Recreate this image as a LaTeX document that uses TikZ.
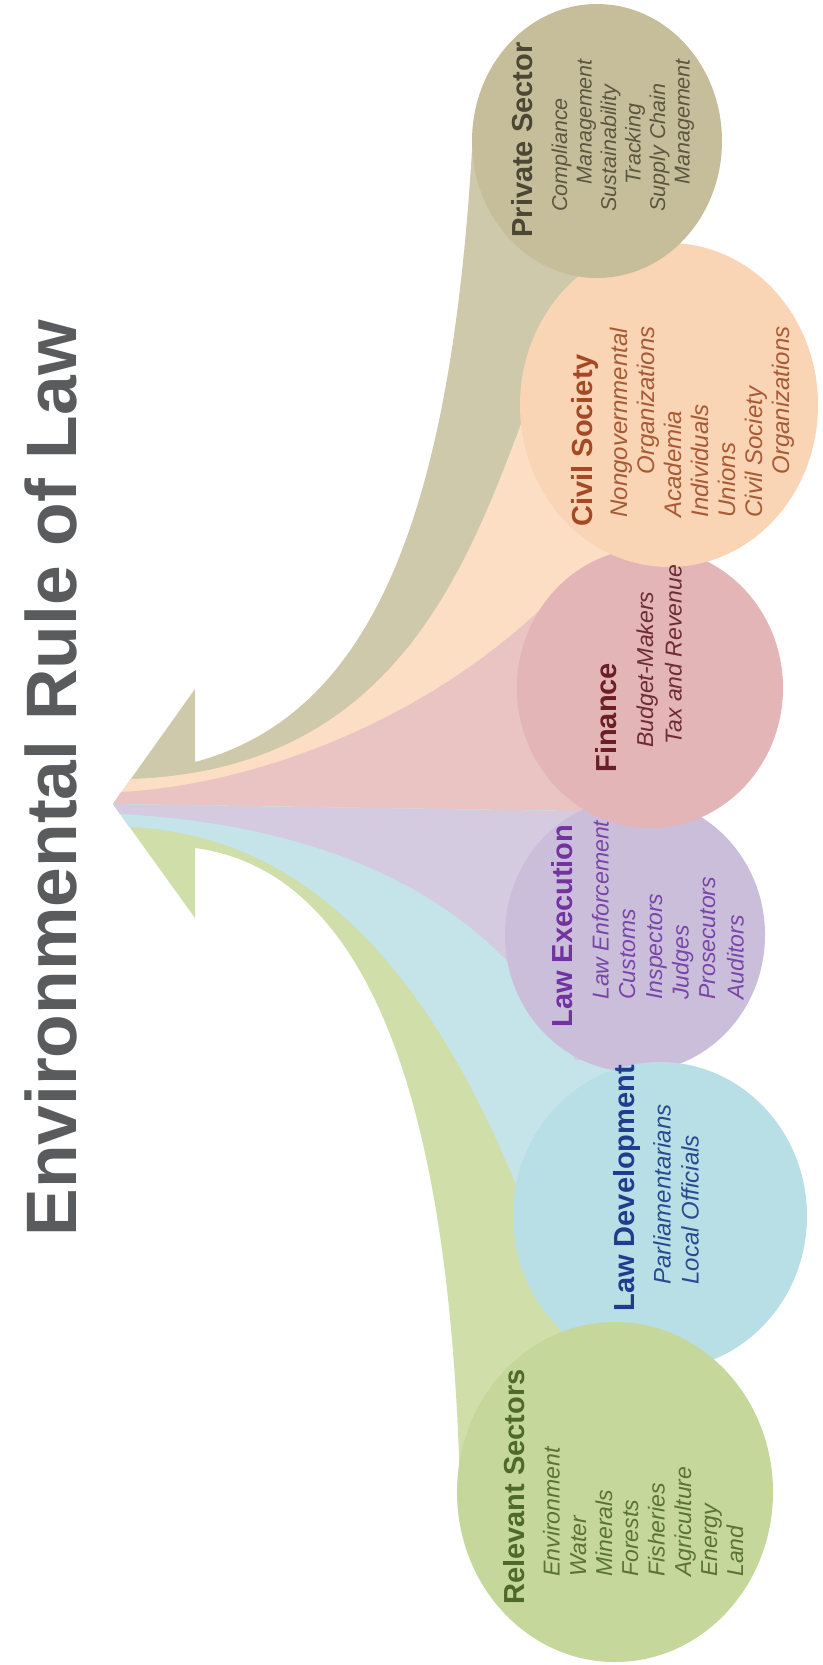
\documentclass[tikz,border=0pt]{standalone}
\usepackage{fontspec}
\setmainfont{Liberation Sans}
\usetikzlibrary{shapes.geometric}
\definecolor{bandPS}{HTML}{CFC9AB}
\definecolor{bandCS}{HTML}{FBDEC3}
\definecolor{bandFI}{HTML}{EAC4C3}
\definecolor{bandLE}{HTML}{D5CBE0}
\definecolor{bandLD}{HTML}{C4E4EA}
\definecolor{bandRS}{HTML}{D0DEAA}
\definecolor{cPS}{HTML}{C6BE9B}
\definecolor{cCS}{HTML}{F9D4B5}
\definecolor{cFI}{HTML}{E3B5B6}
\definecolor{cLE}{HTML}{CBBEDB}
\definecolor{cLD}{HTML}{B8DEE6}
\definecolor{cRS}{HTML}{C6D79B}
\definecolor{tPSh}{HTML}{4C4733}
\definecolor{tPS}{HTML}{5C5640}
\definecolor{tCSh}{HTML}{A34A25}
\definecolor{tCS}{HTML}{A85A35}
\definecolor{tFIh}{HTML}{6B1E25}
\definecolor{tFI}{HTML}{6E2B35}
\definecolor{tLEh}{HTML}{7232A0}
\definecolor{tLE}{HTML}{7A45A8}
\definecolor{tLDh}{HTML}{1F3D8C}
\definecolor{tLD}{HTML}{2A4A90}
\definecolor{tRSh}{HTML}{4E6A2A}
\definecolor{tRS}{HTML}{5A7335}
\definecolor{tTitle}{HTML}{5A5B5D}
\begin{document}
\begin{tikzpicture}[x=0.5pt,y=-0.5pt,
  blob/.style={ellipse, inner sep=0pt, draw=none},
  hd/.style={rotate=90, anchor=base west, inner sep=0pt, font=\fontsize{14.5pt}{17pt}\selectfont\bfseries},
  itm/.style={rotate=90, anchor=base west, inner sep=0pt, font=\fontsize{11.5pt}{13pt}\selectfont\itshape},
  itmsmall/.style={rotate=90, anchor=base west, inner sep=0pt, font=\fontsize{10.75pt}{12pt}\selectfont\itshape},
  itmbig/.style={rotate=90, anchor=base west, inner sep=0pt, font=\fontsize{12pt}{14pt}\selectfont\itshape}]
\useasboundingbox (0,0) rectangle (823,1665);
\fill[white] (0,0) rectangle (823,1665);

% title
\node[rotate=90, anchor=base west, inner sep=0pt, text=tTitle,
  font=\fontsize{35.7pt}{42pt}\selectfont\bfseries] (title) at (76,1237) {Environmental Rule of Law};

% bands, upper group
\fill[bandPS] (640,150) -- (472,150) .. controls (450,520) and (370,715) .. (195,762)
  -- (195,689) -- (113,804) -- (640,808) -- cycle;
\fill[bandCS] (113,804) -- (131,779) .. controls (400,770) and (470,560) .. (530,400)
  -- (640,400) -- (640,808) -- cycle;
\fill[bandFI] (113,804) -- (121,792) .. controls (250,785) and (420,725) .. (545,605)
  -- (640,605) -- (640,812) -- cycle;
% bands, lower group
\fill[bandRS] (113,804) -- (195,918) -- (195,848) .. controls (360,870) and (450,1080) .. (460,1490)
  -- (640,1490) -- (640,812) -- cycle;
\fill[bandLD] (113,804) -- (129,827) .. controls (330,835) and (470,1010) .. (565,1325)
  -- (640,1325) -- (640,812) -- cycle;
\fill[bandLE] (113,804) -- (120,814) .. controls (330,825) and (500,900) .. (575,1060)
  -- (640,1060) -- (640,812) -- cycle;

% circles
\node[blob, fill=cLE, minimum width=130pt, minimum height=137pt] (le) at (635,935) {};
\node[blob, fill=cFI, minimum width=133pt, minimum height=140pt] (fi) at (650,688) {};
\node[blob, fill=cCS, minimum width=149pt, minimum height=162pt] (cs) at (669,405) {};
\node[blob, fill=cPS, minimum width=125pt, minimum height=137pt] (ps) at (597,141) {};
\node[blob, fill=cLD, minimum width=147pt, minimum height=154pt] (ld) at (660,1216) {};
\node[blob, fill=cRS, minimum width=158pt, minimum height=170pt] (rs) at (615,1492) {};

% Private Sector
\node[hd, text=tPSh] (psh) at (532.5,238) {Private Sector};
\node[itmsmall, text=tPS] (ps1) at (567,212) {Compliance};
\node[itmsmall, text=tPS] (ps2) at (591.5,185) {Management};
\node[itmsmall, text=tPS] (ps3) at (616,212) {Sustainability};
\node[itmsmall, text=tPS] (ps4) at (640.5,185) {Tracking};
\node[itmsmall, text=tPS] (ps5) at (665,212) {Supply Chain};
\node[itmsmall, text=tPS] (ps6) at (689.5,185) {Management};

% Civil Society
\node[hd, text=tCSh] (csh) at (592.5,527) {Civil Society};
\node[itmbig, text=tCS] (cs1) at (627,518) {Nongovernmental};
\node[itmbig, text=tCS] (cs2) at (654,475) {Organizations};
\node[itmbig, text=tCS] (cs3) at (681,518) {Academia};
\node[itmbig, text=tCS] (cs4) at (708,518) {Individuals};
\node[itmbig, text=tCS] (cs5) at (735,518) {Unions};
\node[itmbig, text=tCS] (cs6) at (762,518) {Civil Society};
\node[itmbig, text=tCS] (cs7) at (789,475) {Organizations};

% Finance
\node[hd, text=tFIh] (fih) at (616,773) {Finance};
\node[itm, text=tFI] (fi1) at (653,748) {Budget-Makers};
\node[itm, text=tFI] (fi2) at (681.5,745) {Tax and Revenue};

% Law Execution
\node[hd, text=tLEh] (leh) at (572.5,1028) {Law Execution};
\node[itm, text=tLE] (le1) at (608.5,1000) {Law Enforcement};
\node[itm, text=tLE] (le2) at (635,1000) {Customs};
\node[itm, text=tLE] (le3) at (662,1000) {Inspectors};
\node[itm, text=tLE] (le4) at (688.5,1000) {Judges};
\node[itm, text=tLE] (le5) at (715,1000) {Prosecutors};
\node[itm, text=tLE] (le6) at (743.5,1000) {Auditors};

% Law Development
\node[hd, text=tLDh] (ldh) at (634,1312) {Law Development};
\node[itmbig, text=tLD] (ld1) at (670.5,1285) {Parliamentarians};
\node[itmbig, text=tLD] (ld2) at (698.5,1285) {Local Officials};

% Relevant Sectors
\node[hd, text=tRSh] (rsh) at (524,1605) {Relevant Sectors};
\node[itm, text=tRS] (rs1) at (559.5,1577) {Environment};
\node[itm, text=tRS] (rs2) at (586,1577) {Water};
\node[itm, text=tRS] (rs3) at (612,1577) {Minerals};
\node[itm, text=tRS] (rs4) at (638,1577) {Forests};
\node[itm, text=tRS] (rs5) at (664.5,1577) {Fisheries};
\node[itm, text=tRS] (rs6) at (691,1577) {Agriculture};
\node[itm, text=tRS] (rs7) at (717,1577) {Energy};
\node[itm, text=tRS] (rs8) at (743,1577) {Land};
\end{tikzpicture}
\end{document}
